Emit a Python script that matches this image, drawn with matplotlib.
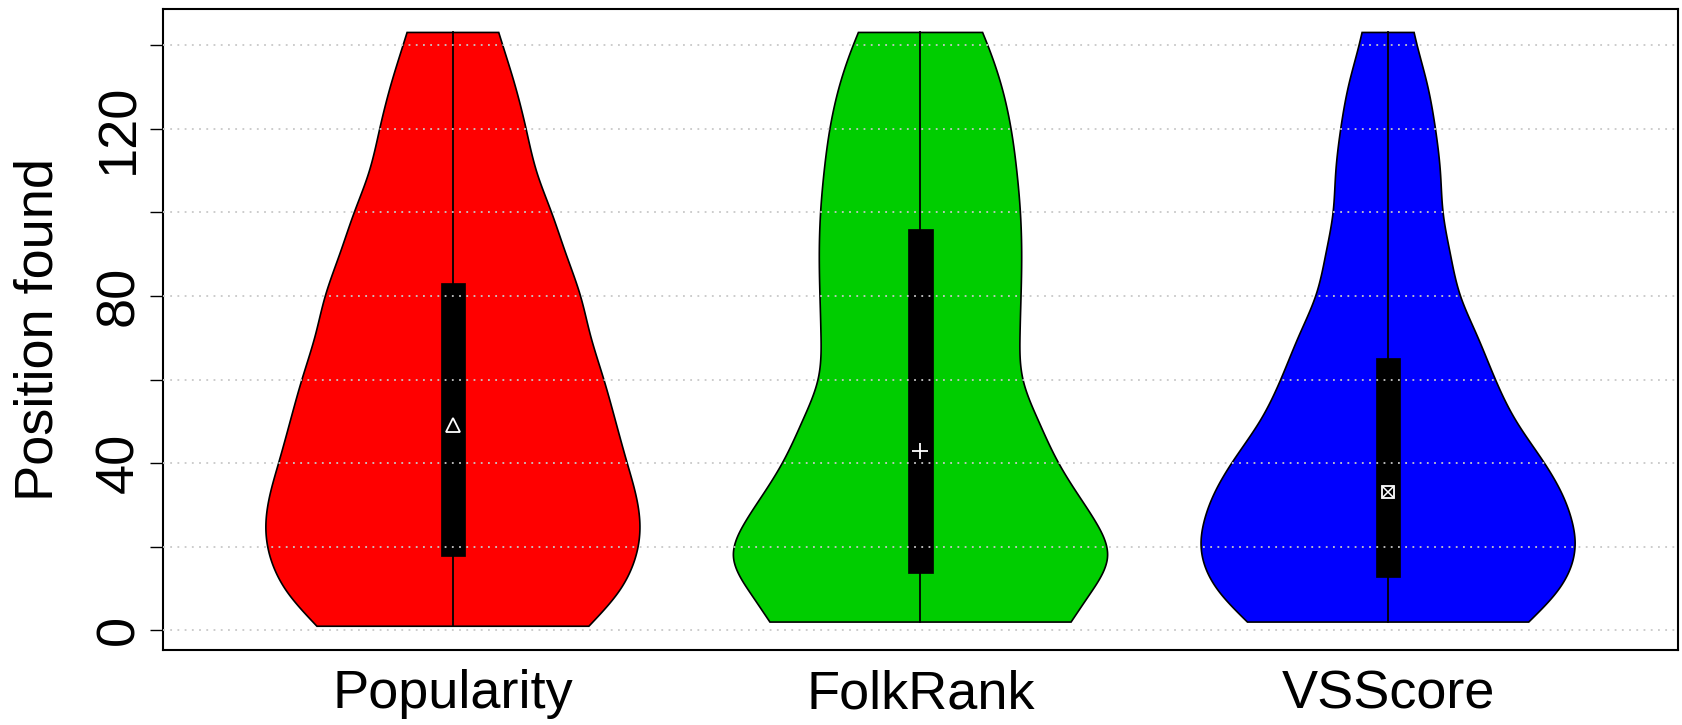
import numpy as np
import matplotlib
matplotlib.use("Agg")
import matplotlib.pyplot as plt

plt.rcParams['font.family'] = ['Liberation Sans', 'DejaVu Sans']

# Methods compared
methods = ["Popularity", "FolkRank", "VSScore"]
fill_colors = ["#FF0000", "#00CD00", "#0000FF"]

# Summary statistics of the position found
y_min = [1, 2, 2]
y_max = [143, 143, 143]
q1 = [17.8, 13.8, 12.8]
q3 = [83.1, 96.0, 65.1]
medians = [49.2, 42.9, 33.0]

# Density profiles (relative width, 1 = widest) at given positions
pop_pos = [1, 9.3, 14.8, 24.6, 33.4, 40, 50, 60, 70.5, 80, 90, 100, 109.4, 120, 130.7, 140, 143]
pop_dens = [0.727, 0.8875, 0.955, 1.0, 0.973, 0.932, 0.870, 0.807, 0.736,
            0.682, 0.605, 0.527, 0.45, 0.391, 0.330, 0.266, 0.245]

folk_pos = [2, 8.3, 17.6, 26, 33.4, 40, 50, 60, 70.5, 80, 90, 100, 109.4, 120, 130.7, 140, 143]
folk_dens = [0.805, 0.9, 1.0, 0.936, 0.829, 0.739, 0.632, 0.548, 0.532,
             0.5375, 0.541, 0.534, 0.516, 0.484, 0.430, 0.359, 0.332]

vss_pos = [2, 9.3, 20.9, 26, 33.4, 40, 50, 60, 70.5, 80, 90, 100, 109.4, 120, 130.7, 140, 143]
vss_dens = [0.752, 0.904, 1.0, 0.984, 0.922, 0.836, 0.686, 0.574, 0.476,
            0.387, 0.333, 0.294, 0.280, 0.253, 0.209, 0.155, 0.139]

profiles = [(pop_pos, pop_dens), (folk_pos, folk_dens), (vss_pos, vss_dens)]
median_markers = ["^", "+", "sx"]

y_ticks = [0, 20, 40, 60, 80, 100, 120, 140]
y_ticklabels = ["0", "", "40", "", "80", "", "120", ""]


def natural_spline(xk, yk, n=400):
    """Natural cubic spline through (xk, yk), evaluated on a fine grid."""
    xk = np.asarray(xk, float)
    yk = np.asarray(yk, float)
    m = len(xk)
    h = np.diff(xk)
    A = np.zeros((m, m))
    b = np.zeros(m)
    A[0, 0] = A[-1, -1] = 1.0
    for i in range(1, m - 1):
        A[i, i - 1] = h[i - 1]
        A[i, i] = 2 * (h[i - 1] + h[i])
        A[i, i + 1] = h[i]
        b[i] = 3 * ((yk[i + 1] - yk[i]) / h[i] - (yk[i] - yk[i - 1]) / h[i - 1])
    c = np.linalg.solve(A, b)
    xs = np.linspace(xk[0], xk[-1], n)
    idx = np.clip(np.searchsorted(xk, xs) - 1, 0, m - 2)
    dx = xs - xk[idx]
    hi = h[idx]
    bi = (yk[idx + 1] - yk[idx]) / hi - hi * (2 * c[idx] + c[idx + 1]) / 3
    di = (c[idx + 1] - c[idx]) / (3 * hi)
    ys = yk[idx] + bi * dx + c[idx] * dx ** 2 + di * dx ** 3
    return xs, ys


fig = plt.figure(figsize=(16.83, 7.25), dpi=100)
ax = fig.add_axes([163 / 1683, 1 - 650 / 725, (1678 - 163) / 1683, (650 - 8.7) / 725])

half_max = 0.40
box_w = 0.052

for i, (name, col) in enumerate(zip(methods, fill_colors)):
    at = i + 1
    pos, dens = profiles[i]
    yy, rr = natural_spline(pos, dens)
    hw = half_max * rr
    xs = np.concatenate([at - hw, (at + hw)[::-1]])
    ys = np.concatenate([yy, yy[::-1]])
    ax.fill(xs, ys, facecolor=col, edgecolor="black", linewidth=1.2, zorder=2)
    ax.plot([at, at], [y_min[i], y_max[i]], color="black", linewidth=1.3, zorder=3)
    ax.add_patch(plt.Rectangle((at - box_w / 2, q1[i]), box_w, q3[i] - q1[i],
                               facecolor="black", edgecolor="black", linewidth=0.5, zorder=4))
    m = median_markers[i]
    if m == "^":
        ax.plot(at, medians[i], marker="^", ms=10, mfc="none", mec="white", mew=1.3, zorder=5)
    elif m == "+":
        ax.plot(at, medians[i], marker="+", ms=12, mec="white", mew=1.3, zorder=5)
    else:
        ax.plot(at, medians[i], marker="s", ms=8, mfc="none", mec="white", mew=1.3, zorder=5)
        ax.plot(at, medians[i], marker="x", ms=7, mec="white", mew=1.1, zorder=5)

# dotted grid drawn over the violins
for v in y_ticks:
    ax.axhline(v, color="#c8c8c8", linestyle=(0, (1, 3)), linewidth=1.3, zorder=6)

ax.set_xlim(0.38, 3.62)
ax.set_ylim(-4.68, 148.68)

ax.set_xticks([1, 2, 3])
ax.set_xticklabels(methods, fontsize=39)
ax.tick_params(axis="x", length=0, pad=14)

ax.set_yticks(y_ticks)
ax.set_yticklabels(y_ticklabels, fontsize=39, rotation=90, va="center")
ax.tick_params(axis="y", length=9.5, width=1.0, pad=4)

ax.set_ylabel("Position found", fontsize=39, va="center")
ax.yaxis.set_label_coords(-0.0825, 0.5)

for s in ax.spines.values():
    s.set_linewidth(1.5)

fig.savefig("out.png", dpi=100)
